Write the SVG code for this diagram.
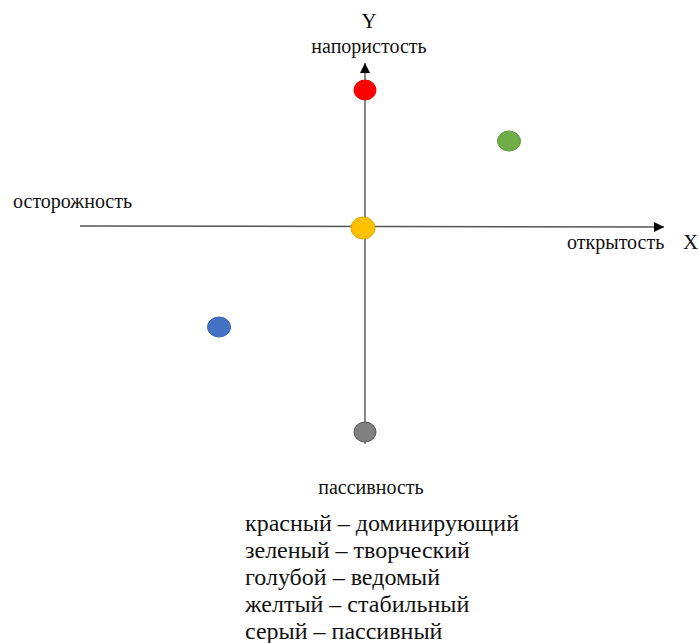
<svg xmlns="http://www.w3.org/2000/svg" width="699" height="643" viewBox="0 0 699 643">
  <style>
    .axis { stroke: #555; stroke-width: 1.4; fill: none; }
    .lbl { font-family: "Liberation Serif", "Times New Roman", serif; font-size: 20px; fill: #111; }
    .ax { font-family: "Liberation Serif", "Times New Roman", serif; font-size: 21px; fill: #111; }
    .leg { font-family: "Liberation Serif", "Times New Roman", serif; font-size: 24px; fill: #111; }
    .dot { stroke-width: 1; }
  </style>
  <defs>
    <marker id="arrow" viewBox="0 0 10 10" refX="10" refY="5" markerWidth="10" markerHeight="10" markerUnits="userSpaceOnUse" orient="auto">
      <path d="M0,0 L10,5 L0,10 Z" fill="#000"/>
    </marker>
  </defs>
  <rect width="699" height="643" fill="#fff"/>

  <g id="connectors">
    <line class="axis" x1="80" y1="226" x2="664" y2="227" marker-end="url(#arrow)"/>
    <line class="axis" x1="365" y1="444" x2="365" y2="63" marker-end="url(#arrow)"/>
  </g>

  <g id="axis-labels">
    <text class="ax" x="369" y="28" text-anchor="middle">Y</text>
    <text class="lbl" x="369" y="53" text-anchor="middle">напористость</text>
    <text class="lbl" x="13" y="208">осторожность</text>
    <text class="lbl" x="567" y="249">открытость</text>
    <text class="ax" x="683" y="249">X</text>
    <text class="lbl" x="371" y="494" text-anchor="middle">пассивность</text>
  </g>

  <g id="red"><ellipse class="dot" cx="365" cy="90" rx="11" ry="10" fill="#ff0000" stroke="#e00"/></g>
  <g id="green"><ellipse class="dot" cx="509" cy="141" rx="11.5" ry="10" fill="#70ad47" stroke="#5e9a3a"/></g>
  <g id="yellow"><ellipse class="dot" cx="363" cy="228" rx="12" ry="11" fill="#ffc000" stroke="#e0a800"/></g>
  <g id="blue"><ellipse class="dot" cx="219" cy="327" rx="11.5" ry="10" fill="#4472c4" stroke="#3a63ad"/></g>
  <g id="gray"><ellipse class="dot" cx="365" cy="432" rx="11" ry="10" fill="#808080" stroke="#555"/></g>

  <g id="legend">
    <text class="leg" x="245" y="531">красный – доминирующий</text>
    <text class="leg" x="245" y="558">зеленый – творческий</text>
    <text class="leg" x="245" y="585">голубой – ведомый</text>
    <text class="leg" x="245" y="612">желтый – стабильный</text>
    <text class="leg" x="245" y="639">серый – пассивный</text>
  </g>
</svg>
